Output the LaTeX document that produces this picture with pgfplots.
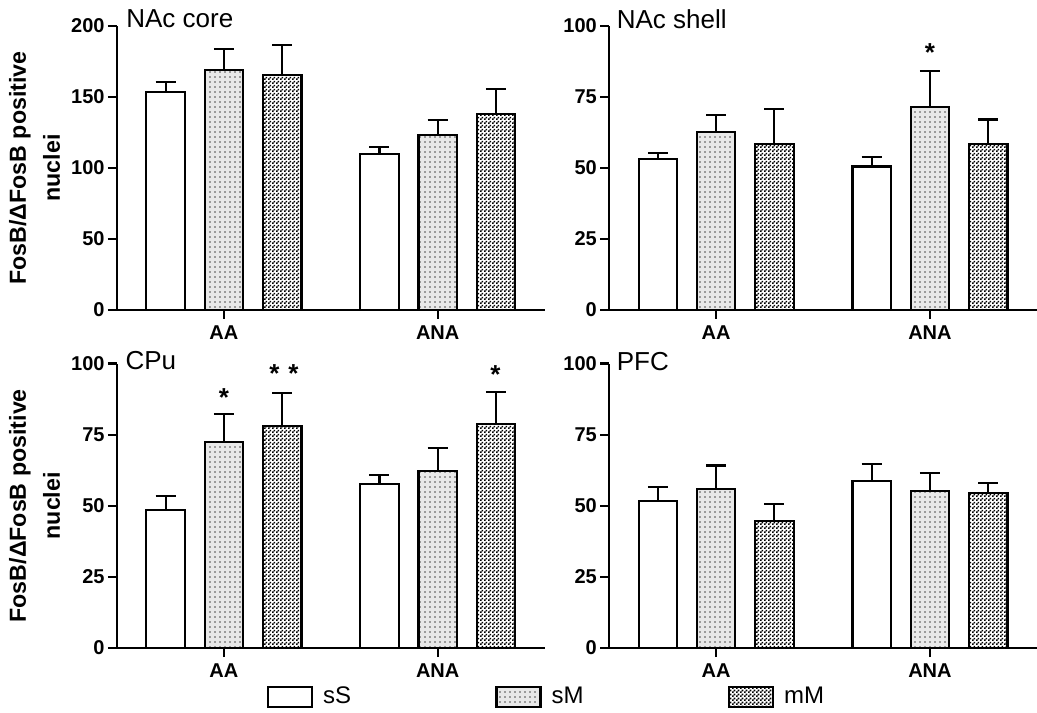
\documentclass[border=0pt]{standalone}
\usepackage{fontspec}
\setmainfont{Liberation Sans}
\usepackage{pgfplots}
\pgfplotsset{compat=1.18}
\usetikzlibrary{patterns}

\pgfdeclarepatternformonly{checker}{\pgfpointorigin}{\pgfpoint{2pt}{2pt}}{\pgfpoint{2pt}{2pt}}{%
 \pgfpathrectangle{\pgfpointorigin}{\pgfpoint{1pt}{1pt}}%
 \pgfpathrectangle{\pgfpoint{1pt}{1pt}}{\pgfpoint{1pt}{1pt}}%
 \pgfusepath{fill}}
\pgfdeclarepatternformonly{sdots}{\pgfpoint{-1pt}{-1pt}}{\pgfpoint{1.5pt}{1.5pt}}{\pgfpoint{2.5pt}{2.5pt}}{%
 \pgfpathcircle{\pgfpointorigin}{0.45pt}%
 \pgfusepath{fill}}

\tikzset{
 ttl/.style={anchor=base west, inner sep=0pt, font=\fontsize{13}{15}\selectfont},
 star/.style={font=\fontsize{13}{13}\selectfont\bfseries},
}

\pgfplotsset{
 panel/.style={
  scale only axis, width=213.8pt, height=142pt,
  axis lines*=left, axis line style={line width=1.1pt},
  ybar, bar width=0.36, clip=false,
  xmin=0, xmax=4, ymin=0,
  xtick={1,3}, xticklabels={AA,ANA},
  tick align=outside, major tick length=4.5pt,
  every tick/.style={line width=1.1pt, black},
  tick label style={font=\fontsize{10}{12}\selectfont\bfseries},
  yticklabel style={inner sep=1.5pt},
  /pgf/number format/assume math mode=true,
  anchor=south west,
 },
 errs/.style={bar shift=0pt, draw=black, line width=1.1pt,
  error bars/y dir=plus, error bars/y explicit,
  error bars/error bar style={line width=1.1pt, black},
  error bars/error mark options={rotate=90, line width=1.1pt, mark size=5pt, black}},
 barS/.style={errs, fill=white},
 barM/.style={errs, fill=gray!18, postaction={pattern=sdots, pattern color=black!70}},
 barMM/.style={errs, fill=white, postaction={pattern=checker, pattern color=black}},
 legbox/.style={legend image code/.code={\draw[##1,/tikz/.cd,line width=1.4pt] (0pt,-5pt) rectangle (22pt,5pt); \path (25pt,0pt);}},
 ylab/.style={ylabel={FosB/ΔFosB positive\\nuclei},
  ylabel style={align=center, font=\fontsize{11.6}{17}\selectfont\bfseries, at={(axis description cs:-0.193,0.5)}, anchor=center}},
}

\begin{document}
\begin{tikzpicture}
\useasboundingbox (0,0) rectangle (518.5pt,356pt);

% NAc core
\begin{axis}[panel, at={(58.5pt,201pt)}, ymax=200, ytick={0,50,100,150,200}, ylab]
\addplot[barS] coordinates {(0.455,153.3) +- (0,7.5) (2.455,110.0) +- (0,4.6)};
\addplot[barM] coordinates {(1,169.0) +- (0,14.6) (3,123.0) +- (0,10.6)};
\addplot[barMM] coordinates {(1.545,165.7) +- (0,21.1) (3.545,138.0) +- (0,17.4)};
\node[ttl] at (axis description cs:0.021,0.993) {NAc core};
\end{axis}

% NAc shell
\begin{axis}[panel, at={(304.6pt,201pt)}, ymax=100, ytick={0,25,50,75,100}]
\addplot[barS] coordinates {(0.455,53.3) +- (0,2.1) (2.455,50.5) +- (0,3.5)};
\addplot[barM] coordinates {(1,62.6) +- (0,6.1) (3,71.5) +- (0,12.7)};
\addplot[barMM] coordinates {(1.545,58.5) +- (0,12.4) (3.545,58.5) +- (0,8.6)};
\node[ttl] at (axis description cs:0.017,0.992) {NAc shell};
\node[star] at (axis cs:3,90.5) {*};
\end{axis}

% CPu
\begin{axis}[panel, at={(58.5pt,32pt)}, height=142.2pt, ymax=100, ytick={0,25,50,75,100}, ylab,
  legend columns=3,
  legend style={at={(axis description cs:0.335,-0.172)}, anchor=west, draw=none, fill=none,
   font=\fontsize{12}{14}\selectfont, /tikz/every even column/.append style={column sep=70pt}}]
\addplot[barS, legbox] coordinates {(0.455,48.4) +- (0,5.0) (2.455,57.6) +- (0,3.1)};
\addplot[barM, legbox] coordinates {(1,72.5) +- (0,9.8) (3,62.2) +- (0,8.0)};
\addplot[barMM, legbox] coordinates {(1.545,78.0) +- (0,11.8) (3.545,78.9) +- (0,11.1)};
\legend{sS,sM,mM}
\node[ttl] at (axis description cs:0.019,0.979) {CPu};
\node[star] at (axis cs:1,88.0) {*};
\node[star] at (axis cs:1.473,96.5) {*};
\node[star] at (axis cs:1.650,96.5) {*};
\node[star] at (axis cs:3.54,96.0) {*};
\end{axis}

% PFC
\begin{axis}[panel, at={(304.6pt,32pt)}, height=142.2pt, ymax=100, ytick={0,25,50,75,100}]
\addplot[barS] coordinates {(0.455,51.7) +- (0,4.8) (2.455,58.8) +- (0,5.8)};
\addplot[barM] coordinates {(1,55.9) +- (0,8.3) (3,55.3) +- (0,6.3)};
\addplot[barMM] coordinates {(1.545,44.7) +- (0,5.8) (3.545,54.5) +- (0,3.4)};
\node[ttl] at (axis description cs:0.017,0.976) {PFC};
\end{axis}
\end{tikzpicture}
\end{document}
